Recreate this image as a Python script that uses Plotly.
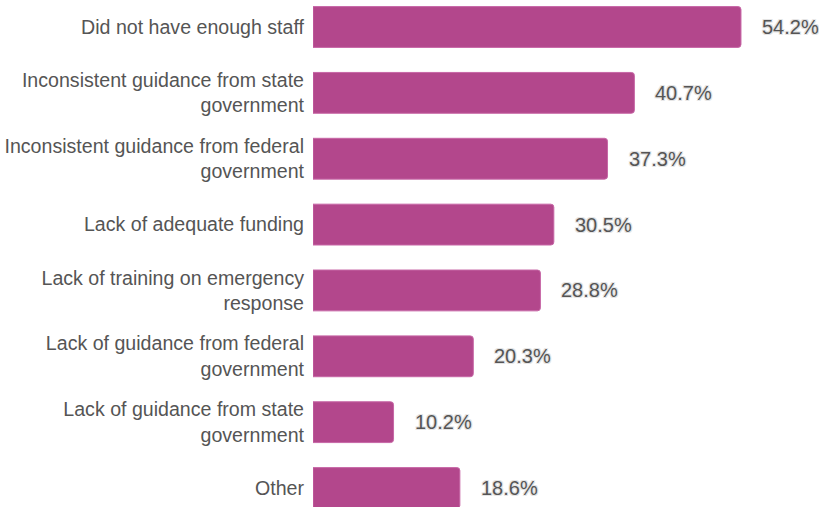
import plotly.graph_objects as go

categories = [
    "Did not have enough staff",
    "Inconsistent guidance from state<br>government",
    "Inconsistent guidance from federal<br>government",
    "Lack of adequate funding",
    "Lack of training on emergency<br>response",
    "Lack of guidance from federal<br>government",
    "Lack of guidance from state<br>government",
    "Other",
]
values = [54.2, 40.7, 37.3, 30.5, 28.8, 20.3, 10.2, 18.6]
value_labels = ["54.2%", "40.7%", "37.3%", "30.5%", "28.8%", "20.3%", "10.2%", "18.6%"]

BAR_COLOR = "#b3478c"
TEXT_COLOR = "#555555"
FONT = "Liberation Sans, Arial, sans-serif"
HALO = "-1px -1px 0 #e4e4e4, 1px -1px 0 #e4e4e4, -1px 1px 0 #e4e4e4, 1px 1px 0 #e4e4e4"

fig = go.Figure(
    go.Bar(
        x=values,
        y=categories,
        orientation="h",
        width=0.62,
        marker=dict(color=BAR_COLOR, line=dict(color="#c767a6", width=1), cornerradius=3),
        hoverinfo="skip",
    )
)

# value labels placed just past the end of each bar
for cat, val, lab in zip(categories, values, value_labels):
    fig.add_annotation(
        x=val, y=cat, text=lab, showarrow=False,
        xanchor="left", xshift=19,
        font=dict(size=20, color=TEXT_COLOR, family=FONT, shadow=HALO),
    )

fig.update_layout(
    width=819, height=507,
    margin=dict(l=313, r=0, t=0, b=0),
    paper_bgcolor="white", plot_bgcolor="white",
    showlegend=False,
    font=dict(family=FONT, size=19.6, color=TEXT_COLOR),
    xaxis=dict(range=[0, 64.08], visible=False, fixedrange=True),
    yaxis=dict(
        type="category", categoryorder="array", categoryarray=categories,
        range=[7.288, -0.41], showgrid=False, zeroline=False, showline=False,
        ticks="", ticklabelstandoff=8, tickfont=dict(size=19.6, color=TEXT_COLOR),
        fixedrange=True,
    ),
)

fig.write_html("out.html")
